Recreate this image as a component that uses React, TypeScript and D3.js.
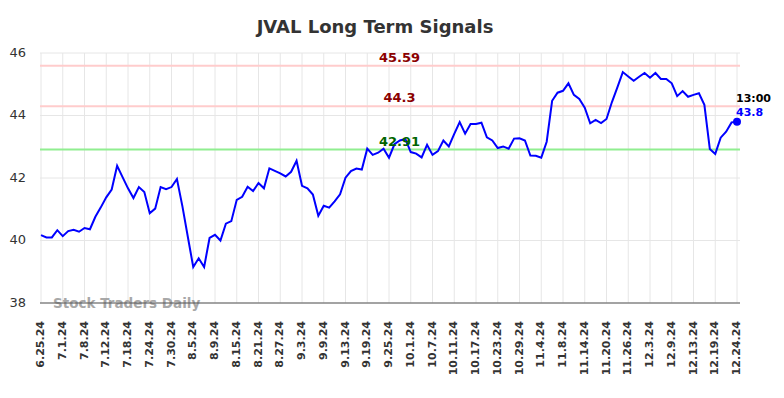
import * as d3 from "d3";

const title = "JVAL Long Term Signals";

// one tick label every 4 trading days
const tickLabels = [
  "6.25.24", "7.1.24", "7.8.24", "7.12.24", "7.18.24", "7.24.24", "7.30.24", "8.5.24",
  "8.9.24", "8.15.24", "8.21.24", "8.27.24", "9.3.24", "9.9.24", "9.13.24", "9.19.24",
  "9.25.24", "10.1.24", "10.7.24", "10.11.24", "10.17.24", "10.23.24", "10.29.24", "11.4.24",
  "11.8.24", "11.14.24", "11.20.24", "11.26.24", "12.3.24", "12.9.24", "12.13.24", "12.19.24",
  "12.24.24"
];

const prices = [
  40.17, 40.1, 40.1, 40.33, 40.14, 40.3, 40.34, 40.28, 40.4, 40.36,
  40.76, 41.06, 41.38, 41.63, 42.39, 42.03, 41.67, 41.36, 41.71, 41.55,
  40.87, 41.02, 41.71, 41.64, 41.71, 41.97, 41.1, 40.12, 39.15, 39.43,
  39.15, 40.08, 40.18, 40.0, 40.54, 40.62, 41.3, 41.4, 41.72, 41.58,
  41.84, 41.67, 42.31, 42.23, 42.15, 42.05, 42.2, 42.55, 41.75, 41.67,
  41.47, 40.79, 41.11, 41.05, 41.25, 41.48, 42.01, 42.22, 42.3, 42.27,
  42.94, 42.74, 42.81, 42.94, 42.65, 43.08, 43.2, 43.25, 42.83, 42.78,
  42.66, 43.06, 42.74, 42.86, 43.2, 43.01, 43.41, 43.79, 43.42, 43.73,
  43.73, 43.77, 43.3, 43.2, 42.96, 43.01, 42.94, 43.26, 43.27, 43.2,
  42.72, 42.71, 42.65, 43.16, 44.47, 44.73, 44.79, 45.03, 44.66, 44.53,
  44.25, 43.75, 43.86, 43.76, 43.89, 44.43, 44.9, 45.39, 45.25, 45.11,
  45.24, 45.36, 45.21, 45.36, 45.17, 45.17, 45.03, 44.62, 44.78, 44.6,
  44.66, 44.71, 44.34, 42.93, 42.77, 43.29, 43.48, 43.78, 43.8
];

const yTicks = [38, 40, 42, 44, 46];

const signalValues = [45.59, 44.3, 42.91];
const signalLabels = ["45.59", "44.3", "42.91"];
const signalKinds = ["resistance", "resistance", "support"];

const lastTime = "13:00";
const lastLabel = "43.8";

const width = 784;
const height = 398;

export default function App() {
  const x = d3.scaleLinear().domain([0, prices.length - 1]).range([41, 737]);
  const y = d3.scaleLinear().domain([38, 46]).range([303, 53]);

  const line = d3.line<number>()
    .x((_, i) => x(i))
    .y(d => y(d));

  const lastIdx = prices.length - 1;

  return (
    <svg
      width={width}
      height={height}
      style={{ position: "absolute", left: 0, top: 0, background: "#fff" }}
      fontFamily="DejaVu Sans, sans-serif"
    >
      <text x={375} y={33} textAnchor="middle" fontSize="18" fontWeight="bold" fill="#333">
        {title}
      </text>

      {/* grid */}
      {yTicks.map(t => (
        <line key={t} x1={40} x2={740} y1={y(t)} y2={y(t)} stroke="#e6e6e6" />
      ))}
      {tickLabels.map((_, k) => (
        <line key={k} x1={x(k * 4)} x2={x(k * 4)} y1={53} y2={303} stroke="#e6e6e6" />
      ))}

      {/* y labels */}
      {yTicks.map(t => (
        <text key={t} x={26} y={y(t)} textAnchor="end" dominantBaseline="middle" fontSize="13" fill="#333">
          {t}
        </text>
      ))}

      {/* x labels */}
      {tickLabels.map((lab, k) => (
        <text
          key={lab}
          transform={`translate(${x(k * 4)},321) rotate(-90)`}
          textAnchor="end"
          dominantBaseline="middle"
          fontSize="11"
          fontWeight="bold"
          fill="#333"
        >
          {lab}
        </text>
      ))}

      {/* signal lines */}
      {signalValues.map((v, i) => (
        <line
          key={v}
          x1={40}
          x2={740}
          y1={y(v)}
          y2={y(v)}
          stroke={signalKinds[i] === "support" ? "#90ee90" : "#ffcccc"}
          strokeWidth={2}
        />
      ))}

      <text x={53} y={308} fontSize="13.5" fontWeight="bold" fill="#999" opacity={0.85}>
        Stock Traders Daily
      </text>

      <line x1={40} x2={740} y1={303} y2={303} stroke="#555" strokeWidth={1.2} />

      <path d={line(prices) ?? ""} fill="none" stroke="#0000ff" strokeWidth={2} />

      {signalValues.map((v, i) => (
        <text
          key={v}
          x={399.5}
          y={y(v) - 4}
          textAnchor="middle"
          fontSize="13"
          fontWeight="bold"
          fill={signalKinds[i] === "support" ? "#006400" : "#8b0000"}
        >
          {signalLabels[i]}
        </text>
      ))}

      <circle cx={x(lastIdx)} cy={y(prices[lastIdx])} r={4} fill="#0000ff" />
      <text x={736} y={102} fontSize="11" fontWeight="bold" fill="#000">{lastTime}</text>
      <text x={736} y={116} fontSize="11" fontWeight="bold" fill="#0000ff">{lastLabel}</text>
    </svg>
  );
}
